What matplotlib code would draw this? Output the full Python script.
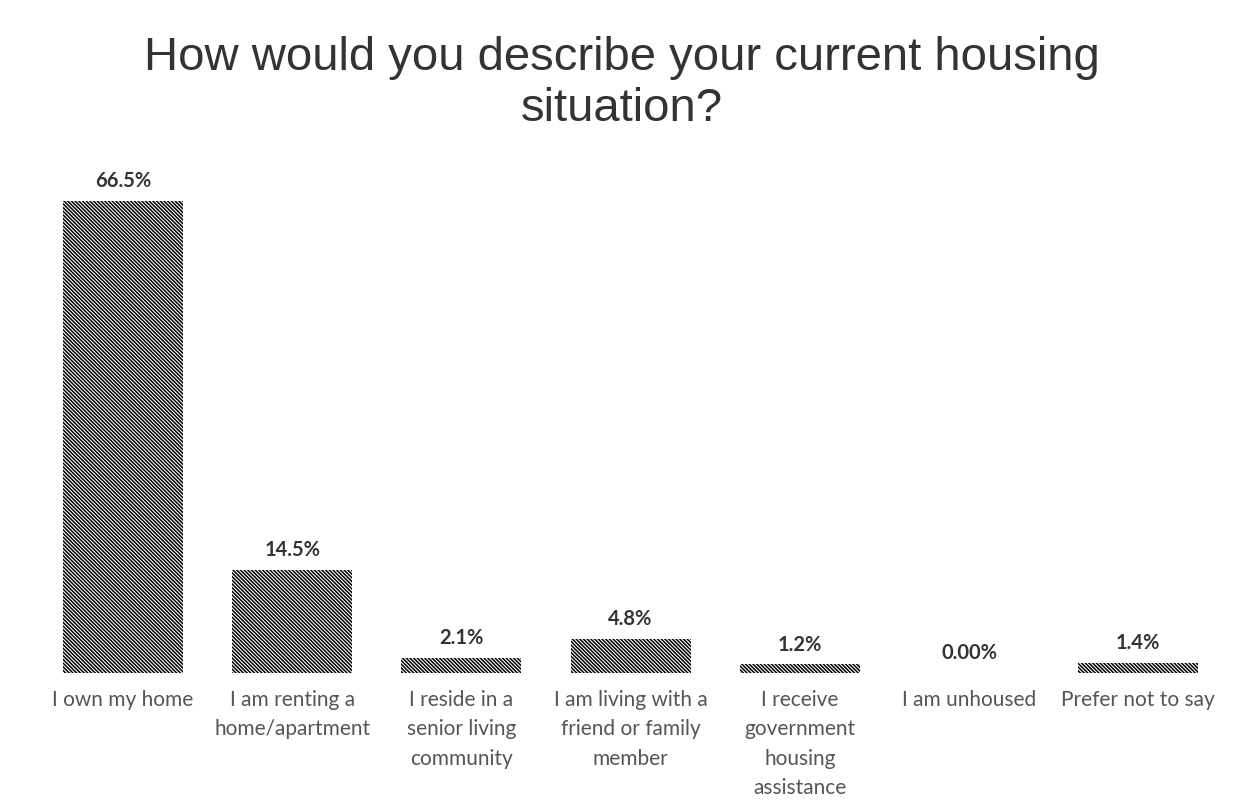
import matplotlib
matplotlib.use("Agg")
import matplotlib.pyplot as plt

categories = [
    "I own my home",
    "I am renting a\nhome/apartment",
    "I reside in a\nsenior living\ncommunity",
    "I am living with a\nfriend or family\nmember",
    "I receive\ngovernment\nhousing\nassistance",
    "I am unhoused",
    "Prefer not to say",
]
values = [66.5, 14.5, 2.1, 4.8, 1.2, 0.0, 1.4]
value_labels = ["66.5%", "14.5%", "2.1%", "4.8%", "1.2%", "0.00%", "1.4%"]
title = "How would you describe your current housing\nsituation?"

plt.rcParams["hatch.linewidth"] = 1.1
plt.rcParams["hatch.color"] = "black"

fig = plt.figure(figsize=(12.44, 8.0), dpi=100)
fig.patch.set_facecolor("white")

# axes spans the whole width; baseline sits at 127 px from the bottom
ax = fig.add_axes([0.0, 127 / 800, 1.0, 480 / 800])
x = list(range(len(categories)))
ax.bar(x, values, width=0.71, color="white", edgecolor="black",
       linewidth=0, hatch="\\" * 9)

px_per_unit = 169.2
ax.set_xlim(-123 / px_per_unit, (1244 - 123) / px_per_unit)
ax.set_ylim(0, 480 / 7.1)

for xi, v, lab in zip(x, values, value_labels):
    ax.annotate(lab, (xi, v), xytext=(0, 7), textcoords="offset points",
                ha="center", va="bottom", fontsize=14.5, fontweight="bold",
                family="Lato", color="#333333")

ax.set_xticks(x)
ax.set_xticklabels(categories, fontsize=15, family="Lato", color="#555555",
                   linespacing=1.6, va="top")
ax.tick_params(axis="x", length=0, pad=12)
ax.set_yticks([])
for s in ax.spines.values():
    s.set_visible(False)

fig.text(0.5, 1 - 36 / 800, title, ha="center", va="top", fontsize=34,
         family="Liberation Sans", color="#333333", linespacing=1.2)

fig.savefig("out.png", dpi=100, facecolor="white")
